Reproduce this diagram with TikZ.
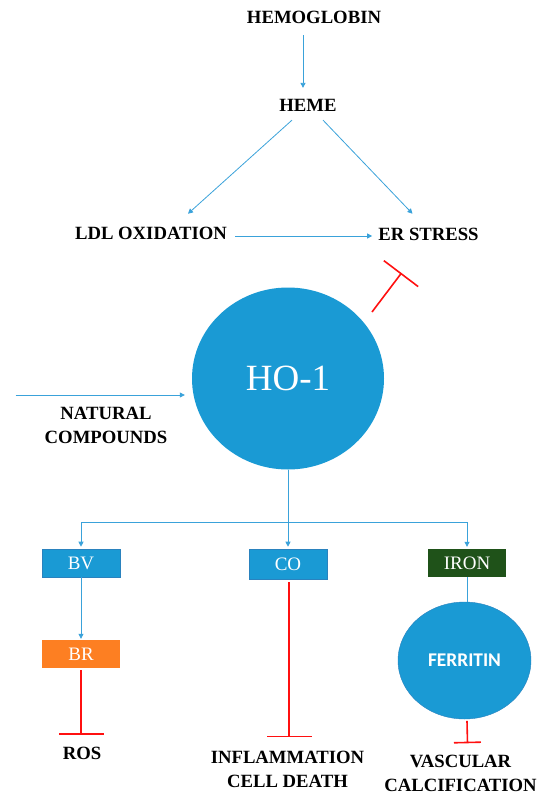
\documentclass[tikz,border=0pt]{standalone}
\usepackage{fontspec}
\setmainfont{Liberation Serif}
\newfontfamily\carlito{Carlito}
\usetikzlibrary{arrows.meta,calc,shapes.geometric}
\definecolor{hoblue}{HTML}{1A9AD4}
\definecolor{lineblue}{HTML}{3AA2DA}
\definecolor{inhred}{HTML}{FF1010}
\definecolor{boxedge}{HTML}{2A82BE}
\definecolor{brorange}{HTML}{FD7F22}
\definecolor{irongreen}{HTML}{1F5219}
\begin{document}
\begin{tikzpicture}[x=1pt,y=-1pt,
  lbl/.style={font=\fontsize{18.7}{23.5}\selectfont\bfseries, inner sep=0pt, align=center},
  arr/.style={draw=lineblue, line width=0.8pt, -{Triangle[length=5pt,width=5pt]}},
  link/.style={draw=lineblue, line width=0.8pt},
  inh/.style={draw=inhred, line width=1.6pt, -{Bar[width=#1]}},
  smallbox/.style={rectangle, minimum width=78pt, minimum height=28pt, inner sep=0pt,
    text=white, font=\fontsize{19}{22}\selectfont},
  blob/.style={ellipse, fill=hoblue, inner sep=0pt, text=white}
]
\useasboundingbox (0,0) rectangle (539,795);

% labels
\node[lbl] (hb) at (314,17.5) {HEMOGLOBIN};
\node[lbl] (heme) at (308,105) {HEME};
\node[lbl] (ldl) at (151,233.5) {LDL OXIDATION};
\node[lbl] (er) at (428.5,234.5) {ER STRESS};
\node[lbl] (nat) at (106,425.5) {NATURAL\\COMPOUNDS};
\node[lbl] (ros) at (82,753.5) {ROS};
\node[lbl] (infl) at (287.5,769.5) {INFLAMMATION\\CELL DEATH};
\node[lbl] (vasc) at (460.5,773.5) {VASCULAR\\CALCIFICATION};

% HO-1 and ferritin
\node[blob, minimum width=192pt, minimum height=182pt,
  font=\fontsize{37}{40}\selectfont] (ho) at (288,378.5) {HO-1};
\node[blob, draw=boxedge, line width=0.4pt, minimum width=133pt, minimum height=117pt,
  font=\carlito\bfseries\fontsize{19.4}{22}\selectfont] (fer) at (464.5,660.5) {FERRITIN};

% boxes
\node[smallbox, fill=hoblue, draw=boxedge, line width=0.6pt] (bv) at (81,563) {BV};
\node[smallbox, fill=hoblue, draw=boxedge, line width=0.6pt, minimum height=30pt] (co) at (288,564) {CO};
\node[smallbox, fill=irongreen] (iron) at (467,563) {IRON};
\node[smallbox, fill=brorange] (br) at (81,654) {BR};

% top connectors
\draw[arr] ($(hb.south)+(-11,11.3)$) -- ($(heme.north)+(-5,-10.8)$);
\draw[arr] ($(heme.south)+(-16,8.8)$) -- ($(ldl.north)+(37,-13.3)$);
\draw[arr] ($(heme.south)+(15,8.8)$) -- ($(er.north)+(-16,-14.3)$);
\draw[arr] ($(ldl.east)+(8,2.5)$) -- ($(er.west)+(-6,1.5)$);

% natural compounds
\coordinate (ncstart) at (15.5,395);
\draw[arr] (ncstart) -- ($(ncstart -| ho.west)+(-7,0)$);
% inhibition of ER stress
\draw[inh=43pt] ($(ho.center)+(84,-66.5)$) -- ($(er.south)+(-27,32)$);

% branching
\coordinate (split) at (288,522.5);
\draw[link] (ho.south) -- (split);
\draw[arr] (split) -| ($(bv.north)+(0,-2)$);
\draw[arr] (split) -- ($(co.north)+(0,-2)$);
\draw[arr] (split) -| ($(iron.north)+(0,-2)$);

\draw[arr] (bv.south) -- ($(br.north)+(0,-1)$);
\draw[link] (iron.south) -- (iron.south |- fer.north);

% inhibitions below
\draw[inh=45pt] ($(br.south)+(0,2)$) -- ($(br.south |- ros.north)+(0,-12.3)$);
\draw[inh=45pt] ($(co.south)+(1,3)$) -- ($(infl.north)+(1.5,-14)$);
\draw[inh=27pt] ($(fer.south)+(2.5,1.7)$) -- ($(vasc.north)+(7,-12)$);
\end{tikzpicture}
\end{document}
